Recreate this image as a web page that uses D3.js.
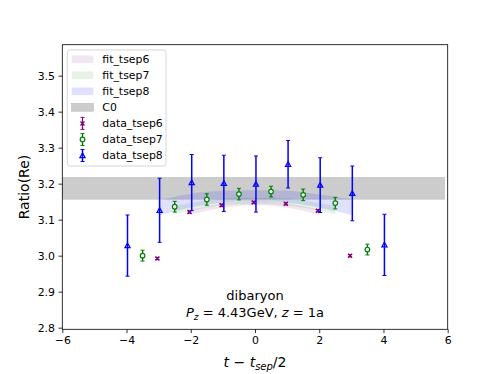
<!DOCTYPE html>
<html><head><meta charset="utf-8">
<script src="https://cdn.jsdelivr.net/npm/d3@7"></script>
<style>body{margin:0;background:#fff}svg{display:block;font-family:"DejaVu Sans",sans-serif}</style>
</head><body><svg id="c" width="498" height="374"></svg>
<script>
// ---- data ----
const xTicks = [-6,-4,-2,0,2,4,6];
const yTicks = [2.8,2.9,3.0,3.1,3.2,3.3,3.4,3.5];

const x6 = [-3,-2,-1,0,1,2,3];
const y6 = [2.992,3.121,3.140,3.148,3.144,3.125,3.000];
const e6 = [0.003,0.003,0.003,0.003,0.003,0.003,0.003];

const x7 = [-3.5,-2.5,-1.5,-0.5,0.5,1.5,2.5,3.5];
const y7 = [3.000,3.136,3.156,3.171,3.178,3.169,3.146,3.017];
const e7 = [0.015,0.015,0.016,0.016,0.015,0.016,0.016,0.015];

const x8 = [-4,-3,-2,-1,0,1,2,3,4];
const y8 = [3.028,3.126,3.203,3.201,3.199,3.254,3.196,3.173,3.030];
const e8 = [0.085,0.089,0.078,0.078,0.078,0.066,0.076,0.076,0.085];

const fit6X = [-2,-1,0,1,2];
const fit6Lo = [3.114,3.133,3.141,3.133,3.114];
const fit6Hi = [3.128,3.145,3.152,3.145,3.128];

const fit7X = [-2.5,-1.5,-0.5,0.5,1.5,2.5];
const fit7Lo = [3.116,3.133,3.143,3.143,3.133,3.116];
const fit7Hi = [3.138,3.153,3.161,3.161,3.153,3.138];

const fit8X = [-3,-2,-1,0,1,2,3];
const fit8Lo = [3.112,3.134,3.147,3.151,3.147,3.134,3.113];
const fit8Hi = [3.154,3.172,3.180,3.182,3.180,3.170,3.157];

const c0X = [-6, 5.9];
const c0Lo = 3.157, c0Hi = 3.217;

const legendLabels = ["fit_tsep6","fit_tsep7","fit_tsep8","C0","data_tsep6","data_tsep7","data_tsep8"];

// ---- layout ----
const L=62.3, R=447.7, T=44.7, B=329.3;
const svg = d3.select("#c");
const x = d3.scaleLinear([-6,6],[L,R]);
const y = d3.scaleLinear([2.7955,3.586],[B,T]);

const plot = svg.append("g");
plot.append("clipPath").attr("id","clip").append("rect").attr("x",L).attr("y",T).attr("width",R-L).attr("height",B-T);
const g = plot.append("g").attr("clip-path","url(#clip)");

// C0 band
g.append("rect").attr("x",x(c0X[0])).attr("width",x(c0X[1])-x(c0X[0]))
 .attr("y",y(c0Hi)).attr("height",y(c0Lo)-y(c0Hi))
 .attr("fill","#cccccc").attr("stroke","#bbbbbb").attr("stroke-width",0.6);

// fit bands
function band(X,Lo,Hi,col,op){
  const pts = X.map((d,i)=>({x:d,lo:Lo[i],hi:Hi[i]}));
  const a = d3.area().x(d=>x(d.x)).y0(d=>y(d.lo)).y1(d=>y(d.hi)).curve(d3.curveMonotoneX);
  g.append("path").attr("d",a(pts)).attr("fill",col).attr("fill-opacity",op).attr("stroke","none");
}
band(fit6X,fit6Lo,fit6Hi,"purple",0.1);
band(fit7X,fit7Lo,fit7Hi,"green",0.1);
band(fit8X,fit8Lo,fit8Hi,"blue",0.12);

// markers
function marker(sel,type,cx,cy,col){
  if(type==="x"){
    const s=2;
    sel.append("path").attr("d",`M${cx-s},${cy-s}L${cx+s},${cy+s}M${cx-s},${cy+s}L${cx+s},${cy-s}`)
      .attr("stroke",col).attr("stroke-width",1.4);
  } else if(type==="o"){
    sel.append("circle").attr("cx",cx).attr("cy",cy).attr("r",2.3).attr("fill","white").attr("stroke",col).attr("stroke-width",1.2);
  } else {
    const s=2.6;
    sel.append("path").attr("d",`M${cx},${cy-s}L${cx+s},${cy+s*0.8}L${cx-s},${cy+s*0.8}Z`)
      .attr("fill","none").attr("stroke",col).attr("stroke-width",1.2);
  }
}
function errs(X,Y,E,dx,col,type,lw){
  X.forEach((d,i)=>{
    const cx=x(d+dx), y1=y(Y[i]+E[i]), y2=y(Y[i]-E[i]), cy=y(Y[i]);
    g.append("line").attr("x1",cx).attr("x2",cx).attr("y1",y1).attr("y2",y2).attr("stroke",col).attr("stroke-width",lw);
    [y1,y2].forEach(v=>g.append("line").attr("x1",cx-2).attr("x2",cx+2).attr("y1",v).attr("y2",v).attr("stroke",col).attr("stroke-width",1));
    marker(g,type,cx,cy,col);
  });
}
errs(x6,y6,e6,-0.04,"purple","x",1.2);
errs(x7,y7,e7,0,"green","o",1.4);
errs(x8,y8,e8,0.03,"blue","^",1.5);

// axes
const ax = svg.append("g").attr("transform",`translate(0,${B})`)
  .call(d3.axisBottom(x).tickValues(xTicks).tickSize(3.8).tickPadding(3.5).tickFormat(d=>d3.format("d")(d).replace("-","\u2212")));
const ay = svg.append("g").attr("transform",`translate(${L},0)`)
  .call(d3.axisLeft(y).tickValues(yTicks).tickSize(3.8).tickPadding(3.5).tickFormat(d3.format(".1f")));
[ax,ay].forEach(a=>{a.select(".domain").remove();a.selectAll("text").attr("font-size",10.9).attr("fill","#000").attr("font-family","DejaVu Sans");a.selectAll("line").attr("stroke","#000").attr("stroke-width",0.8);});
svg.append("rect").attr("x",L).attr("y",T).attr("width",R-L).attr("height",B-T).attr("fill","none").attr("stroke","#000").attr("stroke-width",0.8);

// labels
svg.append("text").attr("transform",`translate(29,${(T+B)/2}) rotate(-90)`).attr("text-anchor","middle")
  .attr("font-size",14).text("Ratio(Re)");
const xl = svg.append("text").attr("x",(L+R)/2).attr("y",367).attr("text-anchor","middle").attr("font-size",14);
xl.append("tspan").attr("font-style","italic").text("t");
xl.append("tspan").text(" \u2212 ");
xl.append("tspan").attr("font-style","italic").text("t");
xl.append("tspan").attr("font-style","italic").attr("font-size",10).attr("dy",3).text("sep");
xl.append("tspan").attr("dy",-3).text("/2");

svg.append("text").attr("x",x(0)).attr("y",300).attr("text-anchor","middle").attr("font-size",13).text("dibaryon");
const t2 = svg.append("text").attr("x",x(0)).attr("y",317).attr("text-anchor","middle").attr("font-size",13);
t2.append("tspan").attr("font-style","italic").text("P");
t2.append("tspan").attr("font-style","italic").attr("font-size",9).attr("dy",2.5).text("z");
t2.append("tspan").attr("dy",-2.5).text(" = 4.43GeV, ");
t2.append("tspan").attr("font-style","italic").text("z");
t2.append("tspan").text(" = 1a");

// legend
const lg = svg.append("g");
lg.append("rect").attr("x",67.3).attr("y",50).attr("width",98.7).attr("height",116).attr("rx",2.5)
  .attr("fill","white").attr("fill-opacity",0.8).attr("stroke","#ccc").attr("stroke-width",0.8);
const ly0=59.2, ldy=16.05;
const sw = [["purple",0.1],["green",0.1],["blue",0.12],["#cccccc",1]];
sw.forEach((s,i)=>{
  lg.append("rect").attr("x",71.7).attr("y",ly0+i*ldy-3.8).attr("width",21.6).attr("height",7.6)
    .attr("fill",s[0]).attr("fill-opacity",s[1]).attr("stroke",i===3?"#aaa":"none").attr("stroke-width",0.5);
});
[["purple","x",1.2],["green","o",1.4],["blue","^",1.5]].forEach((s,j)=>{
  const cy=ly0+(4+j)*ldy, cx=82.5;
  lg.append("line").attr("x1",cx).attr("x2",cx).attr("y1",cy-6).attr("y2",cy+6).attr("stroke",s[0]).attr("stroke-width",s[2]);
  [cy-6,cy+6].forEach(v=>lg.append("line").attr("x1",cx-2).attr("x2",cx+2).attr("y1",v).attr("y2",v).attr("stroke",s[0]).attr("stroke-width",1));
  marker(lg,s[1],cx,cy,s[0]);
});
legendLabels.forEach((t,i)=>lg.append("text").attr("x",102.3).attr("y",ly0+i*ldy+3.9).attr("font-size",10.9).text(t));
</script></body></html>
